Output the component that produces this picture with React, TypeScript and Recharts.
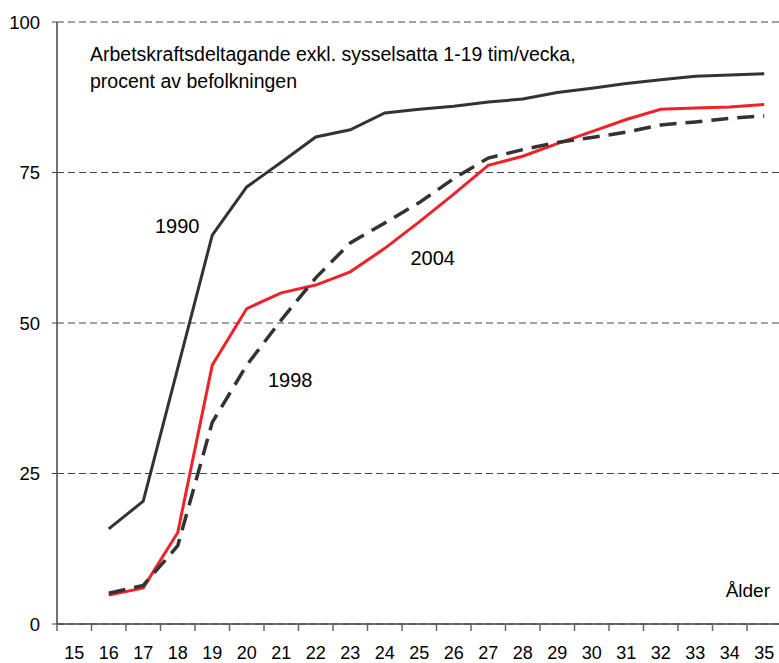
import React from 'react';
import { LineChart, Line, XAxis, YAxis, CartesianGrid } from 'recharts';

// ages with data (16-35), axis categories (15-35)
const ages = [16, 17, 18, 19, 20, 21, 22, 23, 24, 25, 26, 27, 28, 29, 30, 31, 32, 33, 34, 35];
const ageLabels = [15, 16, 17, 18, 19, 20, 21, 22, 23, 24, 25, 26, 27, 28, 29, 30, 31, 32, 33, 34, 35];
const yTicks = [0, 25, 50, 75, 100];

const values1990 = [15.8, 20.4, 42.5, 64.6, 72.6, 76.7, 80.9, 82.1, 84.9, 85.5, 86.0, 86.7, 87.2, 88.3, 89.0, 89.8, 90.4, 91.0, 91.2, 91.4];
const values1998 = [5.1, 6.4, 13.0, 33.5, 43.0, 50.5, 57.5, 63.3, 66.6, 70.0, 74.0, 77.4, 78.8, 80.0, 80.8, 81.7, 82.9, 83.4, 84.0, 84.4];
const values2004 = [4.8, 6.0, 15.2, 43.0, 52.4, 55.0, 56.3, 58.5, 62.4, 66.8, 71.4, 76.2, 77.7, 79.8, 81.8, 83.8, 85.5, 85.7, 85.9, 86.3];

const chartData = ages.map((age, i) => ({
  age,
  y1990: values1990[i],
  y1998: values1998[i],
  y2004: values2004[i],
}));

// tick marks sit on the band edges, labels in the middle
const bandEdges = [...ageLabels.map(a => a - 0.5), ageLabels[ageLabels.length - 1] + 0.5];
const xTicks = [...bandEdges, ...ageLabels].sort((a, b) => a - b);

const FONT = '"Liberation Sans", Arial, sans-serif';

const AgeTick: React.FC<any> = ({ x, y, payload }) => {
  const v = payload.value;
  if (!Number.isInteger(v)) {
    return <line x1={x} x2={x} y1={y} y2={y + 7} stroke="#666" strokeWidth={1.5} />;
  }
  return (
    <text x={x} y={y + 22.5} dy="0.71em" textAnchor="middle" fontSize={18} fontFamily={FONT} fill="#000">
      {v}
    </text>
  );
};

export default function App() {
  return (
    <div style={{ position: 'absolute', left: 0, top: 0, width: 779, height: 663, overflow: 'hidden', background: '#fff' }}>
      <LineChart width={790} height={663} data={chartData} margin={{ top: 22, right: 8.5, bottom: 0, left: 0 }}>
        <CartesianGrid vertical={false} stroke="#444" strokeDasharray="7 4" />
        <XAxis
          dataKey="age"
          type="number"
          domain={[14.5, 35.5]}
          ticks={xTicks}
          interval={0}
          height={39}
          tickSize={0}
          tickMargin={0}
          tickLine={false}
          tick={<AgeTick />}
          axisLine={{ stroke: '#444', strokeWidth: 1.5 }}
        />
        <YAxis
          domain={[0, 100]}
          ticks={yTicks}
          width={57}
          tickSize={5}
          tickMargin={12}
          tick={{ fontSize: 18.5, fontFamily: FONT, fill: '#000' }}
          axisLine={{ stroke: '#444', strokeWidth: 1.5 }}
          tickLine={{ stroke: '#444' }}
        />
        <Line dataKey="y2004" stroke="#ee2229" strokeWidth={3} dot={false} isAnimationActive={false} />
        <Line dataKey="y1998" stroke="#333" strokeWidth={3.5} strokeDasharray="17 9" dot={false} isAnimationActive={false} />
        <Line dataKey="y1990" stroke="#333" strokeWidth={3} dot={false} isAnimationActive={false} />
      </LineChart>
      <svg width={779} height={663} style={{ position: 'absolute', left: 0, top: 0, pointerEvents: 'none' }}>
        <g fontFamily={FONT} fill="#000">
          <text x={90} y={60.5} fontSize={19.5}>
            Arbetskraftsdeltagande exkl. sysselsatta 1-19 tim/vecka,
          </text>
          <text x={90} y={88} fontSize={19.5}>
            procent av befolkningen
          </text>
          <text x={155} y={232.5} fontSize={20}>1990</text>
          <text x={410.5} y={265} fontSize={20}>2004</text>
          <text x={268} y={387} fontSize={20}>1998</text>
          <text x={770} y={597} fontSize={19} textAnchor="end">Ålder</text>
        </g>
      </svg>
    </div>
  );
}
